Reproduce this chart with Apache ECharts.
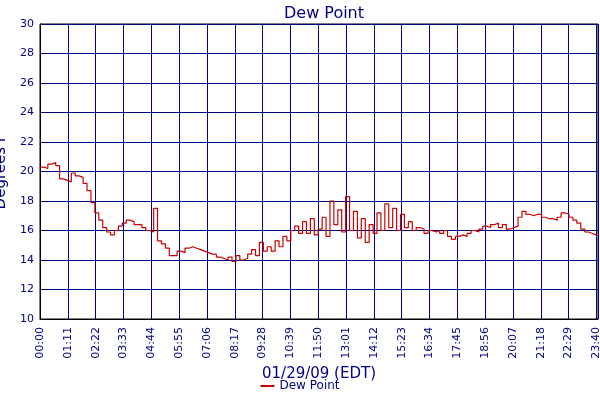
<!DOCTYPE html>
<html><head><meta charset="utf-8">
<script src="https://cdn.jsdelivr.net/npm/echarts@6/dist/echarts.min.js"></script>
<style>html,body{margin:0;padding:0;background:#fff}#c{width:600px;height:400px}</style>
</head><body><div id="c"></div>
<script>
// minutes after midnight, sampled every 10 minutes
var stepMinutes = 10;
var dewPoint = [20.3,20.2,20.5,20.6,20.4,19.5,19.4,19.3,19.9,19.7,19.6,19.2,18.7,17.9,17.2,16.7,16.2,15.9,15.7,16.0,
16.3,16.5,16.7,16.6,16.4,16.4,16.2,16.0,15.9,17.5,15.3,15.1,14.8,14.3,14.3,14.6,14.5,14.8,14.9,14.8,
14.7,14.6,14.5,14.4,14.4,14.2,14.1,14.0,14.2,13.9,14.3,14.0,14.1,14.4,14.7,14.3,15.2,14.6,14.9,14.6,
15.3,14.9,15.6,15.3,16.0,16.3,15.8,16.6,15.8,16.8,15.7,16.1,16.9,15.6,18.0,16.4,17.4,15.9,18.3,16.0,
17.3,15.5,16.8,15.2,16.4,15.8,17.2,16.0,17.8,16.2,17.5,16.0,17.1,16.2,16.6,16.0,16.2,16.1,15.8,16.0,
15.9,16.0,15.8,16.0,15.6,15.4,15.6,15.7,15.6,15.8,16.0,15.9,16.1,16.3,16.2,16.4,16.5,16.2,16.4,16.1,
16.2,16.3,16.9,17.3,17.1,17.0,17.1,17.1,16.9,16.8,16.8,16.7,16.9,17.2,17.1,16.9,16.7,16.5,16.1,15.9,
15.8,15.7,15.6];
var xTicks = [0,71,142,213,284,355,426,497,568,639,710,781,852,923,994,1065,1136,1207,1278,1349,1420,1424];
var xMin = 0, xMax = 1424, xInterval = 71;
var yMin = 10, yMax = 30, yInterval = 2;
var data = dewPoint.map(function(v,i){return [i*stepMinutes, v];});
function fmt(m){var h=Math.floor(m/60),mm=m%60;return (h<10?'0':'')+h+':'+(mm<10?'0':'')+mm;}
var navy='#000080';
var chart = echarts.init(document.getElementById('c'));
chart.setOption({
  animation:false,
  title:{text:'Dew Point',left:319,top:1,textAlign:'center',textStyle:{color:navy,fontSize:16,fontWeight:'normal',fontFamily:'DejaVu Sans'}},
  grid:{left:40,right:2,top:24,bottom:81,containLabel:false,outerBoundsMode:'none',show:true,borderColor:'#000',borderWidth:1},
  legend:{bottom:3,left:'center',itemWidth:14,icon:'rect',itemHeight:2,textStyle:{color:navy,fontSize:12,fontFamily:'DejaVu Sans'},data:['Dew Point']},
  xAxis:{type:'value',min:xMin,max:xMax,interval:xInterval,
    name:'01/29/09 (EDT)',nameLocation:'middle',nameGap:48,nameTextStyle:{color:navy,fontSize:15,fontFamily:'DejaVu Sans'},
    axisLine:{lineStyle:{color:'#000'}},axisTick:{show:false},
    axisLabel:{rotate:90,color:navy,fontSize:11,fontFamily:'DejaVu Sans',customValues:xTicks,hideOverlap:false,formatter:function(v){return fmt(v);}},
    splitLine:{show:true,lineStyle:{color:navy,width:1}}},
  yAxis:{type:'value',min:yMin,max:yMax,interval:yInterval,
    name:'Degrees F',nameLocation:'middle',nameGap:26,nameTextStyle:{color:navy,fontSize:15,fontFamily:'DejaVu Sans'},
    axisLine:{lineStyle:{color:'#000'}},axisTick:{show:false},
    axisLabel:{color:navy,fontSize:11,fontFamily:'DejaVu Sans',margin:6},
    splitLine:{show:true,lineStyle:{color:navy,width:1}}},
  series:[{name:'Dew Point',type:'line',step:'end',data:data,showSymbol:false,color:'#cc0000',lineStyle:{width:1.2,color:'#cc0000'}}]
});
</script></body></html>
